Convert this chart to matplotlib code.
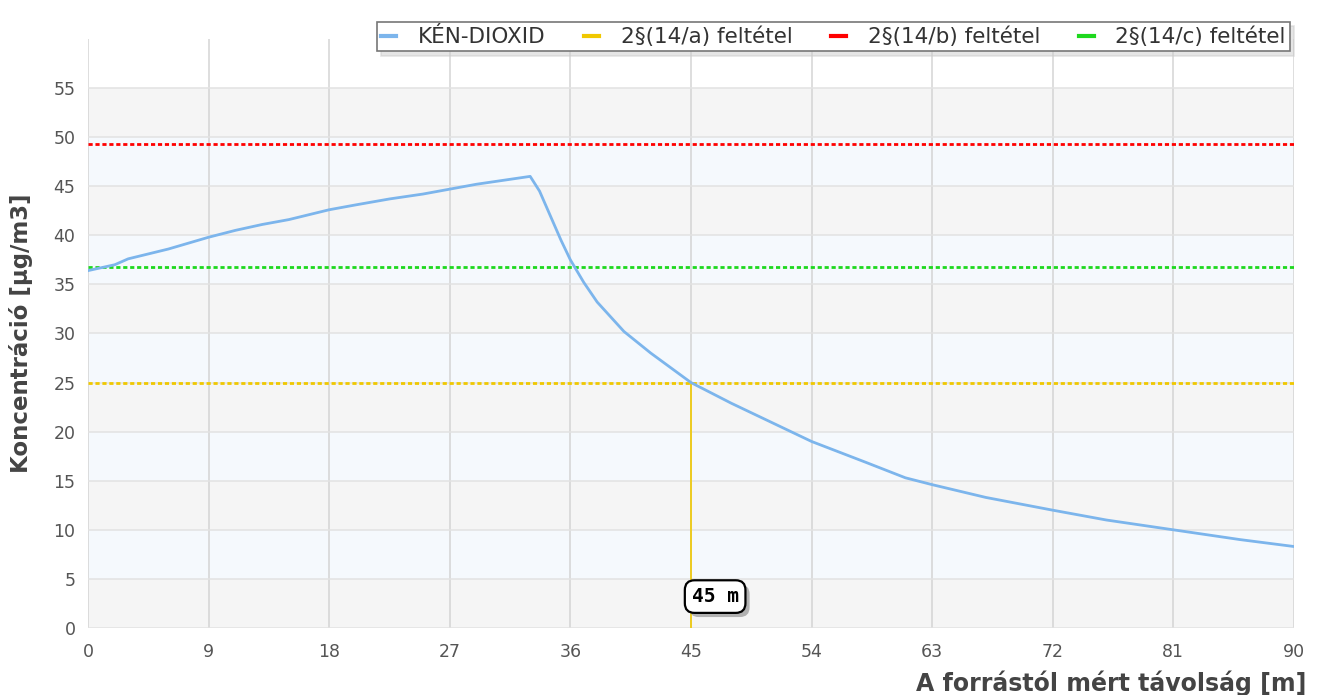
import matplotlib.pyplot as plt
from matplotlib import patheffects
from matplotlib.lines import Line2D

# distance from source [m] and SO2 concentration [ug/m3]
distance = [0, 1, 2, 3, 4.5, 6, 9, 11, 13, 15, 18, 20, 22.5, 25, 27, 29, 30, 31.5,
            33, 33.7, 34.5, 35.3, 36, 37, 38, 40, 42, 45, 48, 50, 54, 58, 61, 63,
            67, 72, 76, 81, 86, 90]
concentration = [36.4, 36.7, 37.0, 37.6, 38.1, 38.6, 39.8, 40.5, 41.1, 41.6, 42.6, 43.1,
                 43.7, 44.2, 44.7, 45.2, 45.4, 45.7,
                 46.0, 44.5, 42.0, 39.5, 37.5, 35.2, 33.2, 30.2, 28.0, 25.0, 22.9, 21.6,
                 19.0, 16.9, 15.3, 14.6, 13.3, 12.0, 11.0, 10.0, 9.0, 8.3]

limit_a = 25.0   # 2§(14/a)
limit_b = 49.3   # 2§(14/b)
limit_c = 36.8   # 2§(14/c)
marker_x = 45

x_ticks = list(range(0, 91, 9))
y_ticks = list(range(0, 56, 5))

legend_labels = ['KÉN-DIOXID', '2§(14/a) feltétel', '2§(14/b) feltétel', '2§(14/c) feltétel']
colors = {'so2': '#7cb5ec', 'a': '#f0c800', 'b': '#ff0000', 'c': '#1ed81e'}

fig = plt.figure(figsize=(13.17, 6.95), dpi=100)
ax = fig.add_axes([0.0668, 0.0964, 0.9157, 0.8476])

# alternating plot bands
for k, lo in enumerate(range(0, 55, 5)):
    ax.axhspan(lo, lo + 5, color='#f5f5f5' if k % 2 == 0 else '#f5f9fd', lw=0, zorder=0)

ax.set_xlim(0, 90)
ax.set_ylim(0, 60)
ax.set_xticks(x_ticks)
ax.set_yticks(y_ticks)
ax.tick_params(length=0, labelsize=12.5, labelcolor='#555555')
ax.tick_params(axis='x', pad=11)
ax.tick_params(axis='y', pad=9)
for s in ax.spines.values():
    s.set_visible(False)

for x in x_ticks:
    ax.axvline(x, color='#d4d4d4', lw=1.1, zorder=1)
for y in y_ticks:
    ax.axhline(y, color='#e2e2e2', lw=1.1, zorder=1)

dots = (0, (1.5, 1))
ax.axhline(limit_a, color=colors['a'], lw=2, ls=dots, zorder=3)
ax.axhline(limit_b, color=colors['b'], lw=2, ls=dots, zorder=3)
ax.axhline(limit_c, color=colors['c'], lw=2, ls=dots, zorder=3)

ax.plot(distance, concentration, color=colors['so2'], lw=2, zorder=4)

ax.plot([marker_x, marker_x], [0, limit_a], color=colors['a'], lw=1.2, zorder=3)

# marker label with drop shadow
lbl = ax.text(marker_x + 0.05, 3.2, '45 m', fontsize=14, family='DejaVu Sans Mono',
              weight='bold', color='black', va='center', ha='left', zorder=6,
              bbox=dict(boxstyle='round,pad=0.35,rounding_size=0.5', fc='white',
                        ec='black', lw=1.6))
lbl.get_bbox_patch().set_path_effects([
    patheffects.SimplePatchShadow(offset=(3, -3), shadow_rgbFace='#a0a0a0', alpha=0.8),
    patheffects.Normal()])

ax.set_xlabel('A forrástól mért távolság [m]', fontsize=17, weight='bold', color='#444444')
ax.xaxis.set_label_coords(1.0105, -0.072)
ax.xaxis.label.set_ha('right')
ax.set_ylabel('Koncentráció [µg/m3]', fontsize=16.5, weight='bold', color='#444444')
ax.yaxis.set_label_coords(-0.046, 0.5)

handles = [Line2D([], [], color=colors[k], lw=3) for k in ('so2', 'a', 'b', 'c')]
leg = fig.legend(handles, legend_labels, ncol=4, loc='upper right',
                 bbox_to_anchor=(0.9795, 0.968), borderaxespad=0, fontsize=15.5,
                 handlelength=0.7, columnspacing=1.8, handletextpad=1.0, frameon=True,
                 fancybox=False, shadow={'color': '#cccccc', 'ox': 3, 'oy': -3},
                 borderpad=0.2, labelcolor='#333333')
leg.get_frame().set_edgecolor('#777777')
leg.get_frame().set_linewidth(1.2)

fig.savefig('out.png', dpi=100)
